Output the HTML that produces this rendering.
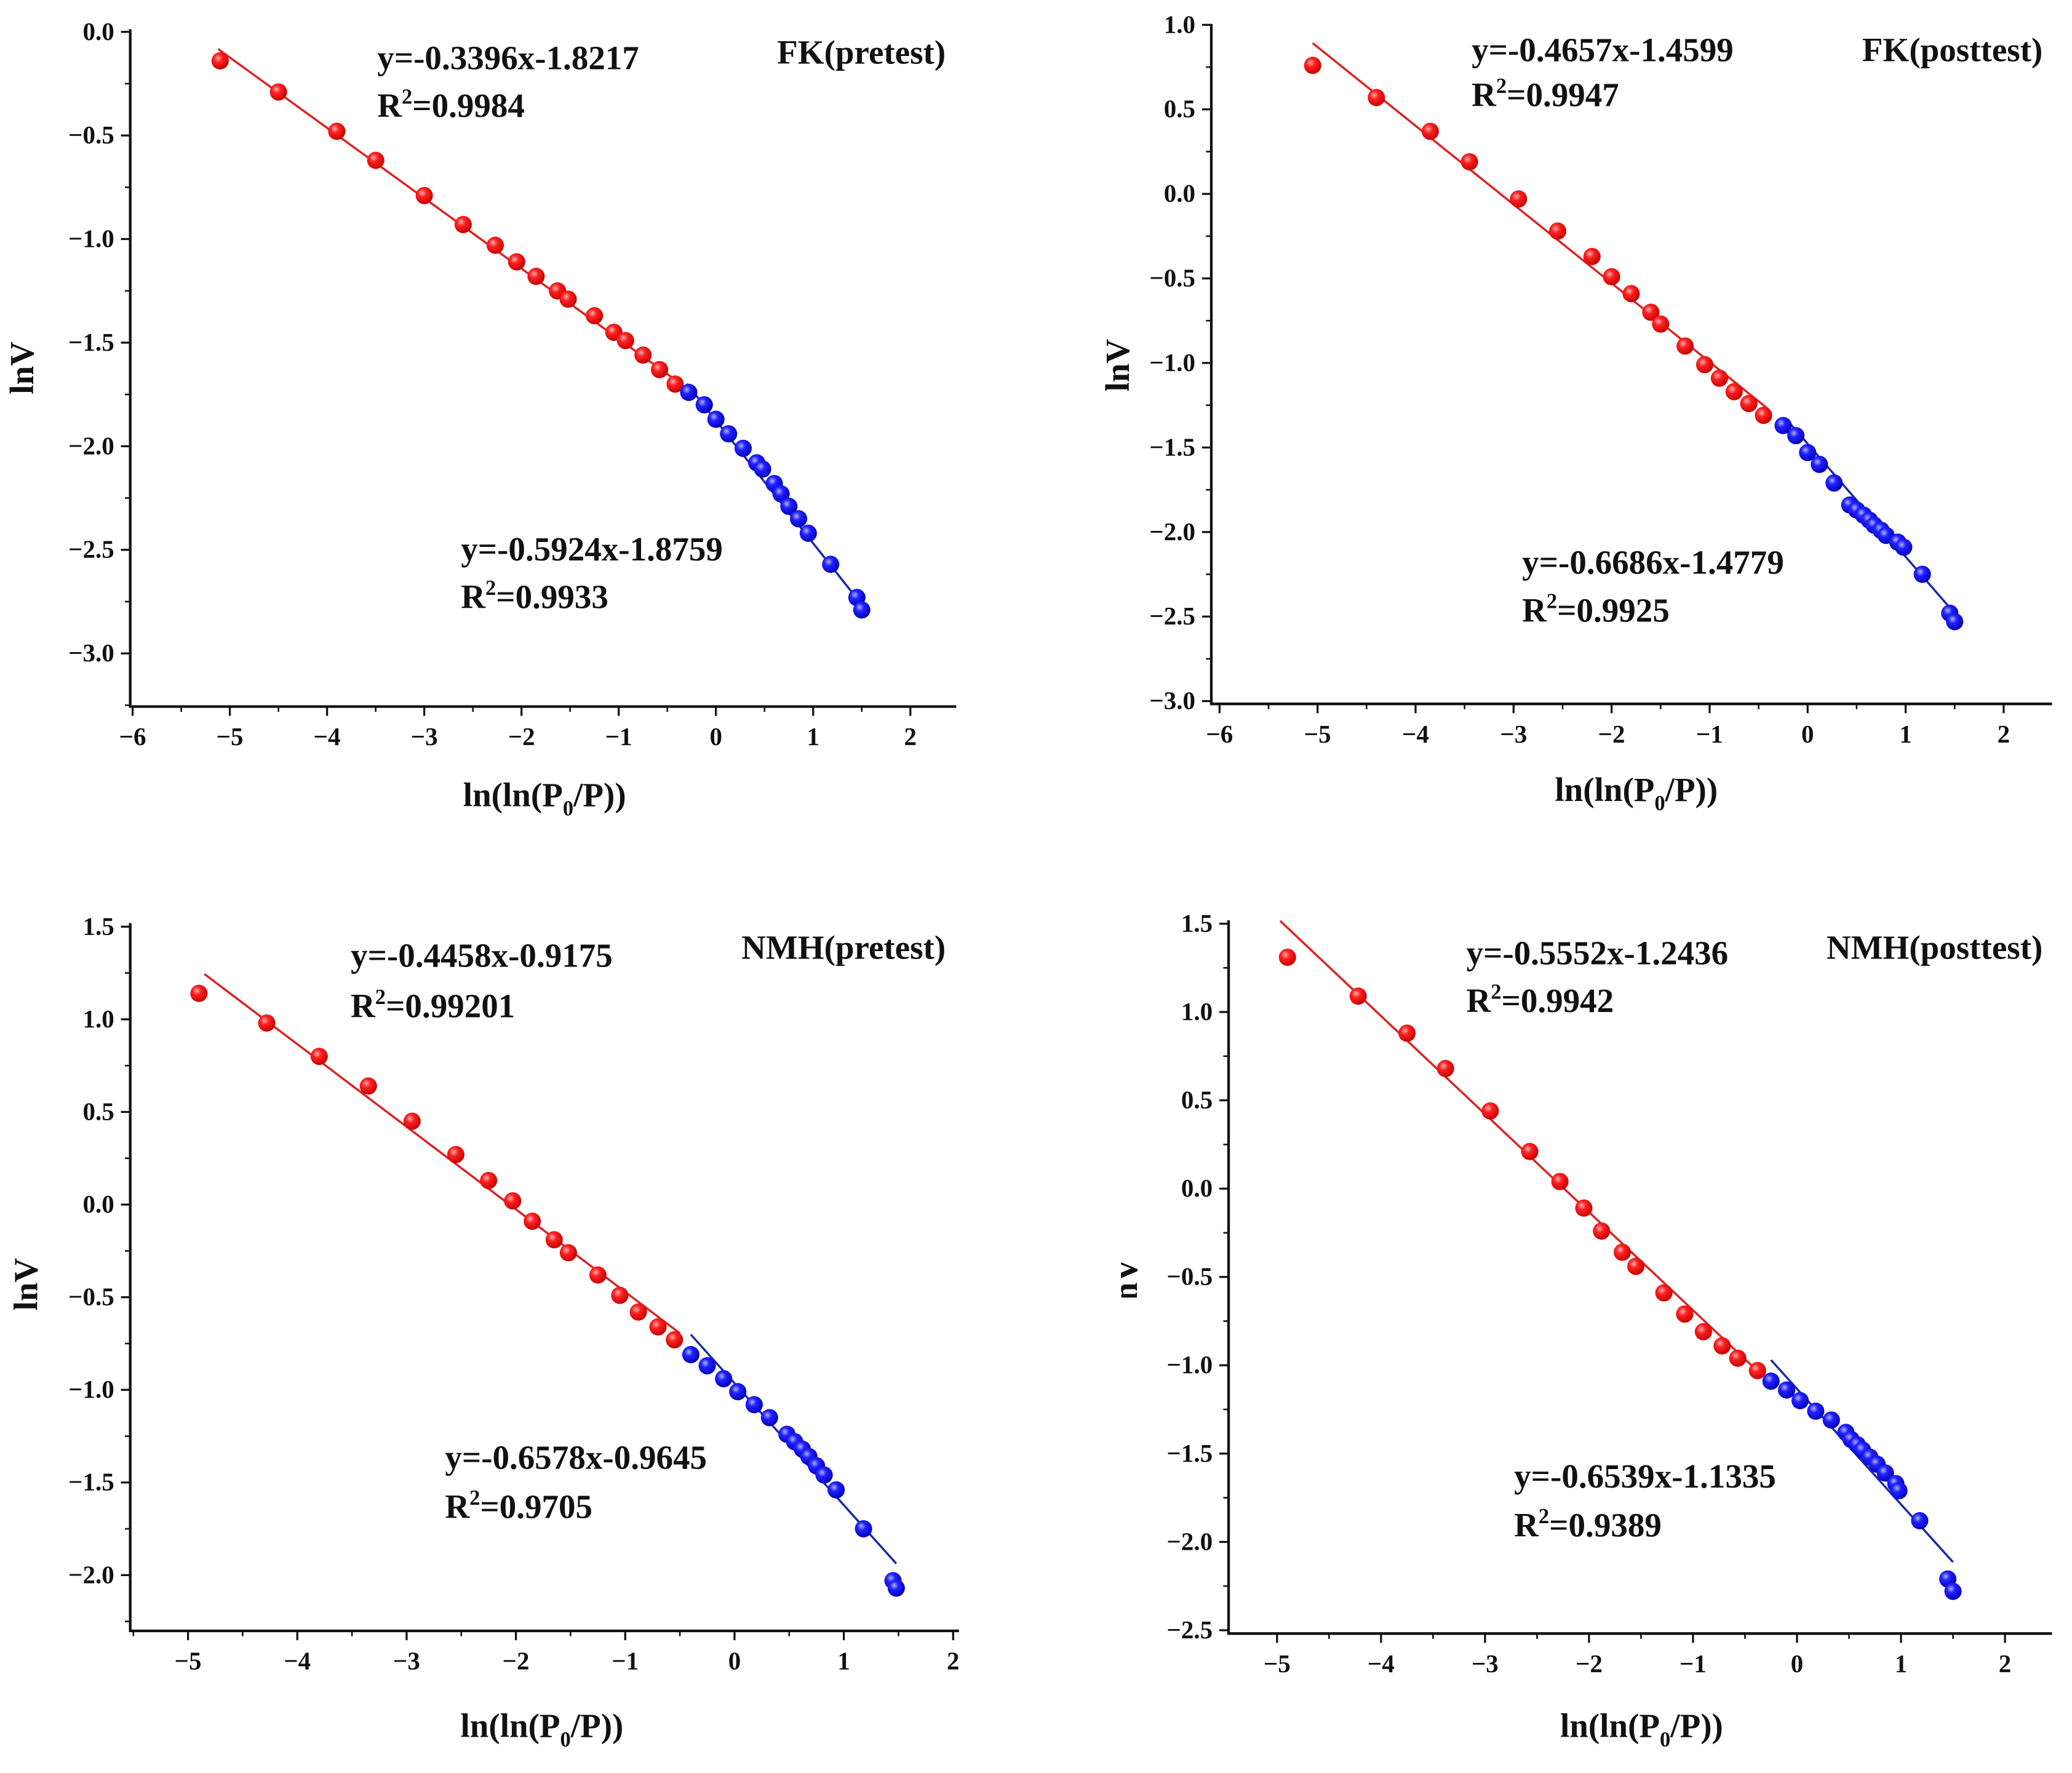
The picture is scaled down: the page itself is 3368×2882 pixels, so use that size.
<!DOCTYPE html>
<html><head><meta charset="utf-8"><style>
html,body{margin:0;padding:0;background:#fff;}
svg{display:block;}
text{font-family:"Liberation Serif",serif;font-weight:bold;fill:#111;}
</style></head>
<body>
<svg id="fig" width="3368" height="2882" viewBox="0 0 1560 1335" xmlns="http://www.w3.org/2000/svg">
<defs>
<radialGradient id="gr" cx="0.38" cy="0.35" r="0.7"><stop offset="0" stop-color="#ffb0b0"/><stop offset="0.35" stop-color="#ff2020"/><stop offset="1" stop-color="#c00000"/></radialGradient>
<radialGradient id="gb" cx="0.38" cy="0.35" r="0.7"><stop offset="0" stop-color="#b0b0ff"/><stop offset="0.35" stop-color="#2020ff"/><stop offset="1" stop-color="#0000b0"/></radialGradient>
<clipPath id="clip4"><rect x="846" y="955" width="40" height="30"/></clipPath>
</defs>
</svg>
<script>
// ---- Panel 1: FK(pretest)
const p1RedX=[-5.1,-4.5,-3.9,-3.5,-3.0,-2.6,-2.27,-2.05,-1.85,-1.63,-1.52,-1.25,-1.05,-0.93,-0.75,-0.58,-0.42];
const p1RedY=[-0.14,-0.29,-0.48,-0.62,-0.79,-0.93,-1.03,-1.11,-1.18,-1.25,-1.29,-1.37,-1.45,-1.49,-1.56,-1.63,-1.70];
const p1BlueX=[-0.28,-0.12,0.0,0.13,0.28,0.42,0.48,0.6,0.67,0.75,0.85,0.95,1.18,1.45,1.5];
const p1BlueY=[-1.74,-1.80,-1.87,-1.94,-2.01,-2.08,-2.11,-2.18,-2.23,-2.29,-2.35,-2.42,-2.57,-2.73,-2.79];
const p1Fit=[[-0.3396,-1.8217,-5.12,-0.4],[-0.5924,-1.8759,-0.3,1.52]];
const p1XTicks=[-6,-5,-4,-3,-2,-1,0,1,2];
const p1YTicks=[0,-0.5,-1,-1.5,-2,-2.5,-3];
// ---- Panel 2: FK(posttest)
const p2RedX=[-5.05,-4.4,-3.85,-3.45,-2.95,-2.55,-2.2,-2.0,-1.8,-1.6,-1.5,-1.25,-1.05,-0.9,-0.75,-0.6,-0.45];
const p2RedY=[0.76,0.57,0.37,0.19,-0.03,-0.22,-0.37,-0.49,-0.59,-0.70,-0.77,-0.90,-1.01,-1.09,-1.17,-1.24,-1.31];
const p2BlueX=[-0.25,-0.12,0.0,0.12,0.27,0.43,0.5,0.57,0.63,0.68,0.75,0.8,0.92,0.98,1.17,1.45,1.5];
const p2BlueY=[-1.37,-1.43,-1.53,-1.6,-1.71,-1.84,-1.87,-1.9,-1.93,-1.96,-1.99,-2.02,-2.06,-2.09,-2.25,-2.48,-2.53];
const p2Fit=[[-0.4657,-1.4599,-5.05,-0.4],[-0.6686,-1.4779,-0.2,1.55]];
const p2XTicks=[-6,-5,-4,-3,-2,-1,0,1,2];
const p2YTicks=[1,0.5,0,-0.5,-1,-1.5,-2,-2.5,-3];
// ---- Panel 3: NMH(pretest)
const p3RedX=[-4.9,-4.28,-3.8,-3.35,-2.95,-2.55,-2.25,-2.03,-1.85,-1.65,-1.52,-1.25,-1.05,-0.88,-0.7,-0.55];
const p3RedY=[1.14,0.98,0.80,0.64,0.45,0.27,0.13,0.02,-0.09,-0.19,-0.26,-0.38,-0.49,-0.58,-0.66,-0.73];
const p3BlueX=[-0.4,-0.25,-0.1,0.03,0.18,0.32,0.48,0.55,0.62,0.68,0.75,0.82,0.93,1.18,1.45,1.48];
const p3BlueY=[-0.81,-0.87,-0.94,-1.01,-1.08,-1.15,-1.24,-1.28,-1.32,-1.36,-1.41,-1.46,-1.54,-1.75,-2.03,-2.07];
const p3Fit=[[-0.4458,-0.9175,-4.85,-0.5],[-0.6578,-0.9645,-0.4,1.48]];
const p3XTicks=[-5,-4,-3,-2,-1,0,1,2];
const p3YTicks=[1.5,1,0.5,0,-0.5,-1,-1.5,-2];
// ---- Panel 4: NMH(posttest)
const p4RedX=[-4.9,-4.22,-3.75,-3.38,-2.95,-2.57,-2.28,-2.05,-1.88,-1.68,-1.55,-1.28,-1.08,-0.9,-0.72,-0.57,-0.38];
const p4RedY=[1.31,1.09,0.88,0.68,0.44,0.21,0.04,-0.11,-0.24,-0.36,-0.44,-0.59,-0.71,-0.81,-0.89,-0.96,-1.03];
const p4BlueX=[-0.25,-0.1,0.03,0.18,0.33,0.47,0.52,0.58,0.63,0.7,0.77,0.85,0.95,0.98,1.18,1.45,1.5];
const p4BlueY=[-1.09,-1.14,-1.20,-1.26,-1.31,-1.38,-1.42,-1.45,-1.48,-1.52,-1.56,-1.61,-1.67,-1.71,-1.88,-2.21,-2.28];
const p4Fit=[[-0.5552,-1.2436,-4.97,-0.4],[-0.6539,-1.1335,-0.25,1.5]];
const p4XTicks=[-5,-4,-3,-2,-1,0,1,2];
const p4YTicks=[1.5,1,0.5,0,-0.5,-1,-1.5,-2,-2.5];

const NS='http://www.w3.org/2000/svg';
const svg=document.getElementById('fig');
function mk(tag,attrs,parent){const e=document.createElementNS(NS,tag);for(const k in attrs)e.setAttribute(k,attrs[k]);(parent||svg).appendChild(e);return e;}
function fmt(v,dec){const s=Math.abs(v).toFixed(dec);return (v<0?'\u2212':'')+s;}

const panels=[
 {id:'fk-pretest',title:'FK(pretest)',rx:p1RedX,ry:p1RedY,bx:p1BlueX,by:p1BlueY,fit:p1Fit,xt:p1XTicks,yt:p1YTicks,
  x0:539,xs:73.2,y0:24,ys:156,L:98,T:22,B:532,R:720,
  eq:[['y=-0.3396x-1.8217','0.9984',284,52,88],['y=-0.5924x-1.8759','0.9933',347,422,458]],titleX:712,titleY:48,xlab:[410,607],ylab:[25,277]},
 {id:'fk-posttest',title:'FK(posttest)',rx:p2RedX,ry:p2RedY,bx:p2BlueX,by:p2BlueY,fit:p2Fit,xt:p2XTicks,yt:p2YTicks,
  x0:1361,xs:73.8,y0:146,ys:127.3,L:912,T:18,B:530,R:1545,
  eq:[['y=-0.4657x-1.4599','0.9947',1108,46,80],['y=-0.6686x-1.4779','0.9925',1146,432,468]],titleX:1538,titleY:46,xlab:[1232,603],ylab:[850,275]},
 {id:'nmh-pretest',title:'NMH(pretest)',rx:p3RedX,ry:p3RedY,bx:p3BlueX,by:p3BlueY,fit:p3Fit,xt:p3XTicks,yt:p3YTicks,
  x0:553,xs:82.3,y0:907,ys:139.5,L:98,T:695,B:1228,R:722,
  eq:[['y=-0.4458x-0.9175','0.99201',264,728,766],['y=-0.6578x-0.9645','0.9705',335,1106,1143]],titleX:712,titleY:722,xlab:[408,1308],ylab:[28,967]},
 {id:'nmh-posttest',title:'NMH(posttest)',rx:p4RedX,ry:p4RedY,bx:p4BlueX,by:p4BlueY,fit:p4Fit,xt:p4XTicks,yt:p4YTicks,
  x0:1353,xs:78.3,y0:895,ys:133,L:925,T:693,B:1230,R:1545,
  eq:[['y=-0.5552x-1.2436','0.9942',1104,726,762],['y=-0.6539x-1.1335','0.9389',1140,1120,1157]],titleX:1538,titleY:722,xlab:[1236,1308],ylab:[856,967],clip:true}
];

panels.forEach(p=>{
 const X=v=>p.x0+p.xs*v, Y=v=>p.y0-p.ys*v;
 const g=mk('g',{});
 
 
 const ax=mk('path',{d:`M${p.L} ${p.T}V${p.B}H${p.R}`,fill:'none',stroke:'#111','stroke-width':2},g);
 
 
 const xstep=p.xt[1]-p.xt[0];
 p.xt.forEach((v,i)=>{
  const x=X(v);
  mk('line',{x1:x,y1:p.B,x2:x,y2:p.B+7,stroke:'#111','stroke-width':1.5},g);
  const m=X(v+xstep/2); if(m<p.R) mk('line',{x1:m,y1:p.B,x2:m,y2:p.B+4,stroke:'#111','stroke-width':1.2},g);
  if(i===0){const m0=X(v-xstep/2); if(m0>p.L) mk('line',{x1:m0,y1:p.B,x2:m0,y2:p.B+4,stroke:'#111','stroke-width':1.2},g);}
  const t=mk('text',{x:x,y:p.B+29,'text-anchor':'middle','font-size':19},g);
  t.textContent=fmt(v,0);
  
  
 });
 p.yt.forEach((v,i)=>{
  const y=Y(v);
  mk('line',{x1:p.L-7,y1:y,x2:p.L,y2:y,stroke:'#111','stroke-width':1.5},g);
  const m=Y(v-0.25); if(m<p.B) mk('line',{x1:p.L-4,y1:m,x2:p.L,y2:m,stroke:'#111','stroke-width':1.2},g);
  const t=mk('text',{x:p.L-12,y:y+6,'text-anchor':'end','font-size':19},g);
  t.textContent=fmt(v,1);
  
  
 });
 p.fit.forEach((f,i)=>{
  const [a,b,xa,xb]=f;
  const l=mk('line',{x1:X(xa),y1:Y(a*xa+b),x2:X(xb),y2:Y(a*xb+b),stroke:i?'#1a2aa8':'#e02020','stroke-width':1.6},g);
  
  
 });
 p.rx.forEach((v,i)=>{
  const c=mk('circle',{cx:X(v),cy:Y(p.ry[i]),r:6.5,fill:'url(#gr)'},g);
  
  
 });
 p.bx.forEach((v,i)=>{
  const c=mk('circle',{cx:X(v),cy:Y(p.by[i]),r:6.5,fill:'url(#gb)'},g);
  
  
 });
 p.eq.forEach((e,i)=>{
  const t1=mk('text',{x:e[2],y:e[3],'font-size':25.5},g);
  t1.textContent=e[0];
  
  
  const t2=mk('text',{x:e[2],y:e[4],'font-size':25.5},g);
  t2.innerHTML='R<tspan dy="-10" font-size="16">2</tspan><tspan dy="10">='+e[1]+'</tspan>';
  
  
 });
 const tt=mk('text',{x:p.titleX,y:p.titleY,'text-anchor':'end','font-size':25.5},g);
 tt.textContent=p.title;
 
 
 const xl=mk('text',{x:p.xlab[0],y:p.xlab[1],'text-anchor':'middle','font-size':25.5},g);
 xl.innerHTML='ln(ln(P<tspan dy="7" font-size="16">0</tspan><tspan dy="-7">/P))</tspan>';
 
 
 const yl=mk('text',{x:p.ylab[0],y:p.ylab[1],'text-anchor':'middle','font-size':25.5,transform:`rotate(-90 ${p.ylab[0]} ${p.ylab[1]})`},g);
 if(p.clip) yl.setAttribute('clip-path','url(#clip4)');
 yl.textContent='lnV';
 
 
});
</script>
</body></html>
